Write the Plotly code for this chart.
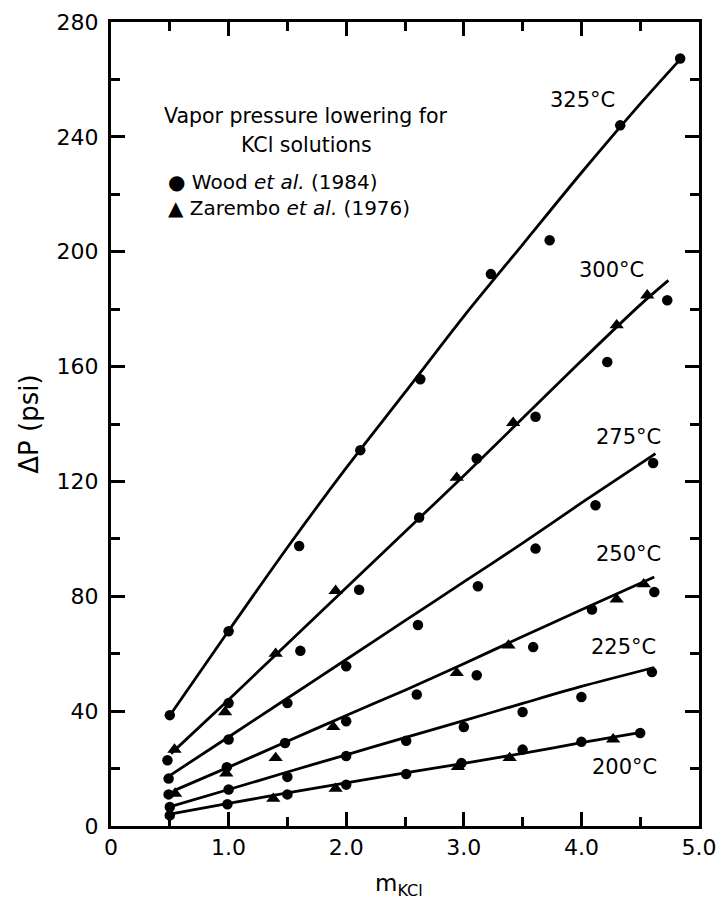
import plotly.graph_objects as go

# ---------------- data ----------------
temps = ["325°C", "300°C", "275°C", "250°C", "225°C", "200°C"]

# Wood et al. (1984) -- circles
wood_325_x = [0.50, 1.00, 1.60, 2.12, 2.63, 3.23, 3.73, 4.33, 4.84]
wood_325_y = [38.6, 67.8, 97.5, 130.9, 155.6, 192.2, 204.0, 244.0, 267.3]
wood_300_x = [0.48, 1.00, 1.61, 2.11, 2.62, 3.11, 3.61, 4.22, 4.73]
wood_300_y = [22.9, 42.8, 61.0, 82.3, 107.4, 128.0, 142.5, 161.6, 183.1]
wood_275_x = [0.49, 1.00, 1.50, 2.00, 2.61, 3.12, 3.61, 4.12, 4.61]
wood_275_y = [16.5, 30.1, 42.8, 55.6, 70.0, 83.5, 96.6, 111.7, 126.4]
wood_250_x = [0.49, 0.985, 1.48, 2.00, 2.60, 3.11, 3.59, 4.09, 4.62]
wood_250_y = [11.0, 20.5, 28.9, 36.5, 45.8, 52.5, 62.3, 75.4, 81.5]
wood_225_x = [0.50, 1.00, 1.50, 2.00, 2.51, 3.00, 3.50, 4.00, 4.60]
wood_225_y = [6.6, 12.7, 17.1, 24.4, 29.7, 34.5, 39.7, 44.9, 53.6]
wood_200_x = [0.50, 0.99, 1.50, 2.00, 2.51, 2.98, 3.50, 4.00, 4.50]
wood_200_y = [3.7, 7.6, 11.0, 14.4, 18.1, 21.9, 26.6, 29.3, 32.4]

# Zarembo et al. (1976) -- triangles
zar_300_x = [0.54, 0.97, 1.40, 1.91, 2.94, 3.42, 4.30, 4.56]
zar_300_y = [26.6, 39.7, 60.0, 81.9, 121.3, 140.4, 174.4, 184.8]
zar_250_x = [0.545, 0.98, 1.40, 1.89, 2.94, 3.38, 4.30, 4.53]
zar_250_y = [11.3, 18.3, 23.7, 34.5, 53.3, 62.9, 78.9, 84.2]
zar_200_x = [1.38, 1.91, 2.95, 3.39, 4.27]
zar_200_y = [9.5, 13.0, 20.6, 23.7, 30.2]

# fitted curves
fit_325_x = [0.50, 1.00, 1.50, 2.00, 2.50, 3.00, 3.50, 4.00, 4.50, 4.84]
fit_325_y = [38.5, 68.0, 97.0, 124.7, 151.0, 177.5, 202.5, 227.5, 251.5, 267.0]
fit_300_x = [0.51, 1.00, 1.50, 2.00, 2.50, 3.00, 3.50, 4.00, 4.50, 4.74]
fit_300_y = [25.2, 44.0, 63.5, 83.0, 102.5, 122.0, 142.0, 162.0, 181.5, 190.0]
fit_275_x = [0.49, 1.00, 1.50, 2.00, 2.50, 3.00, 3.50, 4.00, 4.63]
fit_275_y = [17.3, 31.0, 44.5, 58.0, 71.5, 85.0, 98.5, 112.5, 129.7]
fit_250_x = [0.54, 1.00, 1.50, 2.00, 2.50, 3.00, 3.50, 4.00, 4.62]
fit_250_y = [12.4, 20.5, 29.5, 38.5, 47.3, 56.5, 66.0, 75.3, 86.7]
fit_225_x = [0.49, 1.00, 1.50, 2.00, 2.50, 3.00, 3.50, 4.00, 4.62]
fit_225_y = [6.6, 12.7, 18.8, 24.8, 30.8, 36.7, 42.7, 48.6, 55.2]
fit_200_x = [0.50, 1.00, 1.50, 2.00, 2.50, 3.00, 3.50, 4.00, 4.52]
fit_200_y = [4.1, 7.9, 11.5, 15.0, 18.5, 21.8, 25.3, 29.0, 32.7]

# temperature label anchors (data coords)
label_x = [4.01, 4.26, 4.40, 4.40, 4.36, 4.37]
label_y = [252.8, 193.6, 135.4, 94.6, 62.2, 20.4]

x_tickvals = [0, 1, 2, 3, 4, 5]
x_ticktext = ["0", "1.0", "2.0", "3.0", "4.0", "5.0"]
y_tickvals = [0, 40, 80, 120, 160, 200, 240, 280]

FONT = "DejaVu Sans"
INK = "black"

fig = go.Figure()

fits = [(fit_325_x, fit_325_y), (fit_300_x, fit_300_y), (fit_275_x, fit_275_y),
        (fit_250_x, fit_250_y), (fit_225_x, fit_225_y), (fit_200_x, fit_200_y)]
for fx, fy in fits:
    fig.add_trace(go.Scatter(x=fx, y=fy, mode="lines",
                             line=dict(color=INK, width=2.8, shape="spline", smoothing=0.8),
                             showlegend=False, hoverinfo="skip"))

woods = [(wood_325_x, wood_325_y), (wood_300_x, wood_300_y), (wood_275_x, wood_275_y),
         (wood_250_x, wood_250_y), (wood_225_x, wood_225_y), (wood_200_x, wood_200_y)]
for wx, wy in woods:
    fig.add_trace(go.Scatter(x=wx, y=wy, mode="markers",
                             marker=dict(symbol="circle", size=10.5, color=INK),
                             showlegend=False))

zars = [(zar_300_x, zar_300_y), (zar_250_x, zar_250_y), (zar_200_x, zar_200_y)]
for zx, zy in zars:
    fig.add_trace(go.Scatter(x=zx, y=zy, mode="markers",
                             marker=dict(symbol="triangle-up", size=12.5, color=INK),
                             showlegend=False))

for t, lx, ly in zip(temps, label_x, label_y):
    fig.add_annotation(x=lx, y=ly, text=t, showarrow=False,
                       font=dict(family=FONT, size=21, color=INK))

# in-plot legend block
fig.add_annotation(x=1.66, y=247.3, text="Vapor pressure lowering for", showarrow=False,
                   font=dict(family=FONT, size=20.5, color=INK))
fig.add_annotation(x=1.66, y=237.2, text="KCl solutions", showarrow=False,
                   font=dict(family=FONT, size=20.5, color=INK))
fig.add_annotation(x=0.47, y=224.3, text="● Wood <i>et al.</i> (1984)", showarrow=False,
                   xanchor="left", font=dict(family=FONT, size=20, color=INK))
fig.add_annotation(x=0.47, y=215.3, text="▲ Zarembo <i>et al.</i> (1976)", showarrow=False,
                   xanchor="left", font=dict(family=FONT, size=20, color=INK))

# axis titles
fig.add_annotation(xref="paper", yref="paper", x=-0.14, y=0.50, text="ΔP (psi)",
                   textangle=-90, showarrow=False, xanchor="center",
                   font=dict(family=FONT, size=26, color=INK))
fig.add_annotation(xref="paper", yref="paper", x=0.49, y=-0.074, text="m<sub>KCl</sub>",
                   showarrow=False, yanchor="middle",
                   font=dict(family=FONT, size=23, color=INK))

axis_common = dict(showgrid=False, zeroline=False, showline=True, linecolor=INK,
                   linewidth=3, mirror="ticks", ticks="inside", ticklen=14,
                   tickwidth=2.5, tickcolor=INK, automargin=False,
                   tickfont=dict(family=FONT, size=22, color=INK))

fig.update_xaxes(range=[0, 5], tickvals=x_tickvals, ticktext=x_ticktext,
                 minor=dict(dtick=0.5, ticks="inside", ticklen=9, tickwidth=2.5, tickcolor=INK),
                 **axis_common)
fig.update_yaxes(range=[0, 280], tickvals=y_tickvals, ticklabelstandoff=5,
                 minor=dict(dtick=20, ticks="inside", ticklen=9, tickwidth=2.5, tickcolor=INK),
                 **axis_common)

# page body has an 8px margin: offset margins so the plot area lands where the reference has it
fig.update_layout(width=717, height=898, autosize=False,
                  margin=dict(l=103, r=26, t=14, b=80),
                  plot_bgcolor="white", paper_bgcolor="white",
                  showlegend=False)

fig.write_html("out.html")
